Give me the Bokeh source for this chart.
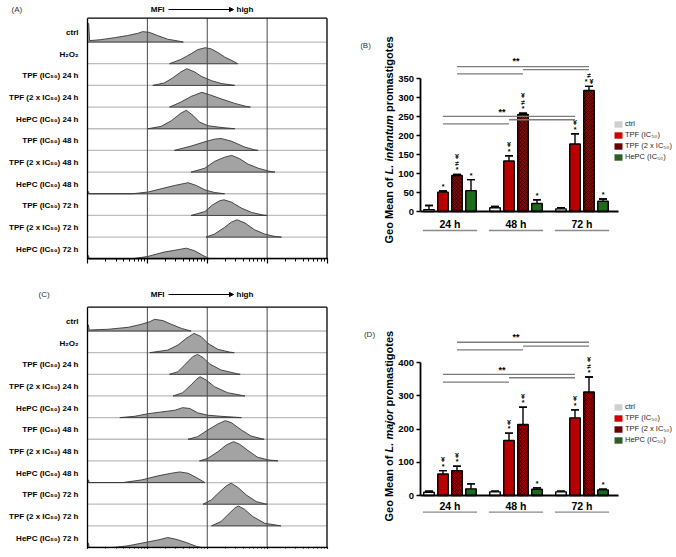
import math
import numpy as np
from bokeh.plotting import figure
from bokeh.layouts import row, column
from bokeh.models import (ColumnDataSource, Range1d, FixedTicker, LogTicker, Arrow,
                          NormalHead, Whisker, TeeHead, Legend, LegendItem, CustomJSTickFormatter)
from bokeh.core.properties import value
from bokeh.embed import file_html
from bokeh.resources import INLINE

FONT = "Liberation Sans"

# ---------------- data ----------------
row_labels = ["ctrl", "H₂O₂", "TPF (IC₅₀) 24 h", "TPF (2 x IC₅₀) 24 h", "HePC (IC₅₀) 24 h",
              "TPF (IC₅₀) 48 h", "TPF (2 x IC₅₀) 48 h", "HePC (IC₅₀) 48 h",
              "TPF (IC₅₀) 72 h", "TPF (2 x IC₅₀) 72 h", "HePC (IC₅₀) 72 h"]

# histogram outlines: log10(MFI) positions and heights (fraction of a row)
A_hist_exp = [
    [0, 0.02, 0.035, 0.06, 0.22, 0.45, 0.67, 0.84, 0.92, 1.03, 1.17, 1.34, 1.51, 1.6],
    [1.37, 1.56, 1.73, 1.84, 1.97, 2.07, 2.18, 2.29, 2.43, 2.51],
    [1.09, 1.28, 1.42, 1.56, 1.66, 1.79, 1.9, 2.07, 2.23, 2.46],
    [1.37, 1.56, 1.73, 1.91, 2.04, 2.23, 2.46, 2.65, 2.72],
    [1.01, 1.23, 1.40, 1.56, 1.65, 1.76, 1.87, 2.01, 2.23, 2.46],
    [1.45, 1.73, 1.96, 2.12, 2.23, 2.40, 2.63, 2.79, 2.85],
    [1.73, 1.96, 2.12, 2.29, 2.41, 2.54, 2.68, 2.85, 3.02, 3.13],
    [0, 0.015, 0.03, 0.75, 1.01, 1.23, 1.45, 1.68, 1.82, 1.96, 2.12, 2.29],
    [1.73, 1.96, 2.09, 2.21, 2.28, 2.40, 2.57, 2.74, 2.93, 3.0],
    [1.98, 2.12, 2.29, 2.40, 2.50, 2.63, 2.79, 2.96, 3.13, 3.24],
    [0, 0.015, 0.03, 0.75, 1.01, 1.28, 1.51, 1.65, 1.79, 1.93, 2.04],
]
A_hist_h = [
    [0.85, 0.85, 0.07, 0.07, 0.11, 0.2, 0.3, 0.4, 0.48, 0.45, 0.3, 0.13, 0.05, 0],
    [0, 0.2, 0.46, 0.65, 0.74, 0.68, 0.51, 0.31, 0.12, 0],
    [0, 0.11, 0.34, 0.62, 0.77, 0.62, 0.42, 0.22, 0.09, 0],
    [0, 0.23, 0.49, 0.68, 0.57, 0.38, 0.17, 0.03, 0],
    [0, 0.11, 0.37, 0.72, 0.85, 0.62, 0.31, 0.14, 0.06, 0],
    [0, 0.2, 0.4, 0.52, 0.55, 0.43, 0.15, 0.03, 0],
    [0, 0.18, 0.49, 0.69, 0.77, 0.62, 0.37, 0.18, 0.05, 0],
    [0.1, 0.1, 0, 0, 0.08, 0.23, 0.38, 0.51, 0.38, 0.18, 0.06, 0],
    [0, 0.18, 0.49, 0.68, 0.72, 0.62, 0.34, 0.14, 0.02, 0],
    [0, 0.14, 0.45, 0.69, 0.8, 0.65, 0.34, 0.14, 0.03, 0],
    [0.15, 0.15, 0, 0, 0.11, 0.31, 0.42, 0.49, 0.37, 0.15, 0],
]
C_hist_exp = [
    [0, 0.015, 0.03, 0.05, 0.34, 0.68, 0.9, 1.04, 1.12, 1.26, 1.4, 1.57, 1.73],
    [1.04, 1.34, 1.51, 1.65, 1.78, 1.9, 2.01, 2.18, 2.37, 2.45],
    [1.37, 1.51, 1.65, 1.76, 1.84, 1.93, 2.04, 2.23, 2.51, 2.55],
    [1.43, 1.59, 1.73, 1.82, 1.88, 1.98, 2.12, 2.34, 2.59, 2.63],
    [0.54, 0.79, 1.01, 1.23, 1.46, 1.59, 1.71, 1.84, 2.01, 2.23, 2.57],
    [1.68, 1.84, 2.01, 2.18, 2.3, 2.4, 2.57, 2.73, 2.9, 2.95],
    [1.87, 2.01, 2.18, 2.32, 2.44, 2.54, 2.68, 2.84, 3.01, 3.18],
    [0, 0.015, 0.03, 0.59, 0.9, 1.18, 1.4, 1.54, 1.68, 1.82, 1.96],
    [1.93, 2.07, 2.21, 2.32, 2.4, 2.51, 2.65, 2.82, 2.96, 3.0],
    [2.07, 2.23, 2.37, 2.46, 2.52, 2.62, 2.76, 2.96, 3.23],
    [0, 0.015, 0.03, 0.43, 0.68, 0.96, 1.18, 1.34, 1.48, 1.65, 1.82, 1.9],
]
C_hist_h = [
    [0.28, 0.28, 0.05, 0.05, 0.08, 0.17, 0.31, 0.43, 0.54, 0.48, 0.31, 0.12, 0],
    [0, 0.12, 0.35, 0.66, 0.89, 0.74, 0.43, 0.15, 0.03, 0],
    [0, 0.12, 0.51, 0.82, 0.92, 0.77, 0.48, 0.2, 0.02, 0],
    [0, 0.15, 0.51, 0.77, 0.89, 0.74, 0.43, 0.15, 0.02, 0],
    [0, 0.06, 0.18, 0.26, 0.34, 0.46, 0.42, 0.22, 0.11, 0.06, 0],
    [0, 0.12, 0.43, 0.71, 0.86, 0.77, 0.43, 0.15, 0.03, 0],
    [0, 0.12, 0.43, 0.74, 0.89, 0.77, 0.48, 0.17, 0.05, 0],
    [0.12, 0.12, 0, 0, 0.12, 0.31, 0.43, 0.49, 0.43, 0.23, 0],
    [0, 0.2, 0.58, 0.85, 0.97, 0.78, 0.43, 0.12, 0.02, 0],
    [0, 0.2, 0.58, 0.82, 0.92, 0.77, 0.43, 0.12, 0],
    [0.2, 0.2, 0, 0, 0.08, 0.23, 0.35, 0.46, 0.38, 0.23, 0.05, 0],
]

groups = ["24 h", "48 h", "72 h"]
series = ["ctrl", "TPF (IC₅₀)", "TPF (2 x IC₅₀)", "HePC (IC₅₀)"]

# (B) L. infantum
B_ctrl = [5, 10, 7]
B_ctrl_err = [11, 3, 3]
B_tpf = [51, 133, 178]
B_tpf_err = [3, 14, 27]
B_tpf2 = [95, 256, 319]
B_tpf2_err = [3, 3, 11]
B_hepc = [55, 21, 27]
B_hepc_err = [29, 10, 6]
B_yticks = [0, 50, 100, 150, 200, 250, 300, 350]
B_marks_ctrl = [[], [], []]
B_marks_tpf = [["*"], ["*", "¥"], ["*", "¥"]]
B_marks_tpf2 = [["*", "≠", "¥"], ["*", "≠", "¥"], ["* ¥", "≠"]]
B_marks_hepc = [["*"], ["*"], ["*"]]
B_brk_tpf_y = [251, 242, 231]
B_brk_tpf_star = 262
B_brk_tpf2_y = [382, 374, 363]
B_brk_tpf2_star = 396

# (D) L. major
D_ctrl = [10, 11, 11]
D_ctrl_err = [3, 2, 2]
D_tpf = [65, 166, 234]
D_tpf_err = [10, 22, 24]
D_tpf2 = [75, 214, 312]
D_tpf2_err = [13, 52, 45]
D_hepc = [20, 19, 17]
D_hepc_err = [15, 4, 2]
D_yticks = [0, 100, 200, 300, 400]
D_marks_ctrl = [[], [], []]
D_marks_tpf = [["*", "¥"], ["*", "¥"], ["*", "¥"]]
D_marks_tpf2 = [["*", "¥"], ["*", "¥"], ["*", "≠", "¥"]]
D_marks_hepc = [[], ["*"], ["*"]]
D_brk_tpf_y = [365, 355, 342]
D_brk_tpf_star = 379
D_brk_tpf2_y = [462, 450, 439]
D_brk_tpf2_star = 479

bracket_pairs = [(0, 2), (1, 2), (0, 1)]

# ---------------- styling / layout ----------------
bar_fill = ["#f6f6f6", "#b80000", "#8c0000", "#1e6b1e"]
bar_hatch = [None, None, "x", None]
legend_fill = ["#d0d0d0", "#d40000", "#6a0000", "#2f5e24"]

LEFT_W, RIGHT_W = 330, 345
TOP_H, BOT_H = 283, 273
MB = 8          # common bottom border (frames aligned in rows)
ML_RIGHT = 30   # left border of right column


def txt(p, x, y, t, size, style="bold", align="center", color="black", angle=0.0):
    p.text(x=x, y=y, text=t, angle=angle, text_font=value(FONT), text_font_size=size,
           text_font_style=style, text_align=align, text_baseline="middle", text_color=color)


def hide_labels(ax):
    ax.formatter = CustomJSTickFormatter(code="return ''")
    ax.major_label_text_font_size = "1px"
    ax.major_label_standoff = 0


def hist_panel(exps, hs, letter, letter_px, fig_top, fig_h, box_top, box_bottom, title_py):
    BL, BR = 87.0, 326.5
    dec = (BR - BL) / 4.0
    n = len(row_labels)
    ymax = n + 0.1
    ppu = (box_bottom - box_top) / ymax

    def px2x(px):
        return 10 ** ((px - BL) / dec)

    def py2y(py):
        return (box_bottom - py) / ppu

    frame_bottom = fig_top + fig_h - MB
    p = figure(width=LEFT_W, height=fig_h, x_axis_type="log", y_axis_location=None,
               x_range=Range1d(px2x(0), px2x(LEFT_W)),
               y_range=Range1d(py2y(frame_bottom), py2y(fig_top)),
               output_backend="svg", toolbar_location=None,
               min_border_left=0, min_border_right=0, min_border_top=0, min_border_bottom=MB)
    p.outline_line_color = None
    p.grid.visible = False
    p.background_fill_color = "white"

    x_lo, x_hi = 1.0, 1e4
    decades = [10.0 ** k for k in range(5)]
    baselines = [n - 1 - i for i in range(n)]

    xs, ys = [], []
    for b, e, h in zip(baselines, exps, hs):
        xs.append([10 ** v for v in [e[0]] + e + [e[-1]]])
        ys.append([b + v for v in [0] + h + [0]])
    p.segment(x0=[x_lo] * n, y0=baselines, x1=[x_hi] * n, y1=baselines,
              line_color="#bdbdbd", line_width=1.3)
    p.patches(xs, ys, fill_color="#a3a3a3", line_color="#383838", line_width=0.9)
    p.segment(x0=decades[1:-1], y0=[0] * 3, x1=decades[1:-1], y1=[ymax] * 3,
              line_color="#4a4a4a", line_width=1)
    p.segment(x0=[x_lo, x_hi, x_lo], y0=[0, 0, ymax], x1=[x_lo, x_hi, x_hi], y1=[ymax, ymax, ymax],
              line_color="black", line_width=1.3)

    txt(p, [px2x(78)] * n, [b + 0.4375 for b in baselines], row_labels, "8px", align="right")

    ty = py2y(title_py)
    txt(p, [px2x(letter_px)], [ty], [letter], "8px", style="normal", align="left", color="#333333")
    txt(p, [px2x(164)], [ty], ["MFI"], "8px", align="right")
    txt(p, [px2x(236)], [ty], ["high"], "8px", align="left")
    p.add_layout(Arrow(x_start=px2x(168), y_start=ty, x_end=px2x(233), y_end=ty,
                       line_color="black", line_width=1.2,
                       end=NormalHead(size=4, fill_color="black", line_color="black")))

    p.xaxis.fixed_location = 0
    p.xaxis.bounds = (x_lo, x_hi)
    p.xaxis.ticker = LogTicker(mantissas=[1], num_minor_ticks=10)
    hide_labels(p.xaxis[0])
    p.xaxis.major_tick_out = 5
    p.xaxis.major_tick_in = 0
    p.xaxis.minor_tick_out = 3
    p.xaxis.minor_tick_in = 0
    p.xaxis.axis_line_width = 1.5
    p.xaxis.major_tick_line_width = 1.2
    p.xaxis.axis_line_color = "black"
    p.xaxis.major_tick_line_color = "black"
    p.xaxis.minor_tick_line_color = "black"
    return p


def bar_panel(fig_top, fig_h, y0_px, ppu, vals, errs, marks, brk, yticks,
              group_py, under_py, species, ylab_start_px, letter, letter_pos, legend_bottom_px):
    fig_left = LEFT_W
    frame_left = fig_left + ML_RIGHT
    frame_bottom = fig_top + fig_h - MB
    axis_px, axis_end_px, gc0, pitch = 419.5, 617.5, 449.5, 66.0

    def px2x(px):
        return (px - gc0) / pitch

    def py2y(py):
        return (y0_px - py) / ppu

    p = figure(width=RIGHT_W, height=fig_h,
               x_range=Range1d(px2x(frame_left), px2x(fig_left + RIGHT_W)),
               y_range=Range1d(py2y(frame_bottom), py2y(fig_top)),
               output_backend="svg", toolbar_location=None,
               min_border_left=ML_RIGHT, min_border_right=0, min_border_top=0, min_border_bottom=MB)
    p.outline_line_color = None
    p.grid.visible = False

    bar_w = 10.5 / pitch
    step = 14.0 / pitch
    ng = len(groups)

    def gx(si, g):
        return g + (si - 1.5) * step

    mx, my, mt_, mo = [], [], [], []
    for si, name in enumerate(series):
        xs = [gx(si, g) for g in range(ng)]
        ups = [v + e for v, e in zip(vals[si], errs[si])]
        src = ColumnDataSource(dict(x=xs, top=vals[si], up=ups))
        kw = dict(fill_color=bar_fill[si], line_color="black", line_width=1.4)
        if bar_hatch[si]:
            kw.update(hatch_pattern=bar_hatch[si], hatch_color="#220000", hatch_scale=4,
                      hatch_weight=0.8)
        p.vbar(x="x", top="top", bottom=0, width=bar_w, source=src, **kw)
        p.segment(x0="x", y0="top", x1="x", y1="up", source=src,
                  line_color="black", line_width=1.4)
        p.add_layout(Whisker(source=src, base="x", upper="up", lower="up",
                             line_color="black", line_width=1.4,
                             upper_head=TeeHead(size=8, line_color="black", line_width=1.4),
                             lower_head=TeeHead(size=8, line_color="black", line_width=1.4)))
        for g in range(ng):
            for k, t in enumerate(marks[si][g]):
                mx.append(xs[g])
                my.append(ups[g])
                mt_.append(t)
                mo.append(-(4.5 + 6.5 * k))
    msrc = ColumnDataSource(dict(x=mx, y=my, t=mt_, o=mo))
    p.text(x="x", y="y", text="t", y_offset="o", source=msrc, text_font=value(FONT),
           text_font_size="7px", text_font_style="bold", text_align="center",
           text_baseline="middle", text_color="black")

    # significance brackets
    sx0, sy0, sx1, sts, stx, sty = [], [], [], [], [], []
    for si, ylist, ystar in brk:
        for (a, b), yy in zip(bracket_pairs, ylist):
            sx0.append(gx(si, a))
            sx1.append(gx(si, b))
            sy0.append(yy)
        stx.append((gx(si, 0) + gx(si, 2)) / 2 - 7.0 / pitch)
        sty.append(ystar)
        sts.append("**")
    p.segment(x0=sx0, y0=sy0, x1=sx1, y1=sy0, line_color="#7c7c7c", line_width=1.3)
    txt(p, stx, sty, sts, "9px")

    # group labels and underlines
    txt(p, list(range(ng)), [py2y(group_py)] * ng, groups, "10.5px")
    uy = py2y(under_py)
    p.segment(x0=[g - 0.41 for g in range(ng)], y0=[uy] * ng,
              x1=[g + 0.41 for g in range(ng)], y1=[uy] * ng,
              line_color="#8a8a8a", line_width=1.3)

    # axes
    p.xaxis.fixed_location = 0
    p.xaxis.bounds = (px2x(axis_px), px2x(axis_end_px))
    p.xaxis.ticker = FixedTicker(ticks=list(range(ng)))
    hide_labels(p.xaxis[0])
    p.xaxis.major_tick_out = 0
    p.xaxis.major_tick_in = 0
    p.xaxis.minor_tick_line_color = None
    p.xaxis.axis_line_width = 1.8
    p.xaxis.axis_line_color = "black"

    p.yaxis.fixed_location = px2x(axis_px)
    p.yaxis.bounds = (0, yticks[-1])
    p.yaxis.ticker = FixedTicker(ticks=yticks)
    p.yaxis.axis_line_width = 1.8
    p.yaxis.axis_line_color = "black"
    p.yaxis.major_tick_out = 4
    p.yaxis.major_tick_in = 0
    p.yaxis.major_tick_line_width = 1.5
    p.yaxis.minor_tick_line_color = None
    p.yaxis.major_label_text_font = FONT
    p.yaxis.major_label_text_font_style = "bold"
    p.yaxis.major_label_text_font_size = "9.5px"
    p.yaxis.major_label_text_color = "black"
    p.yaxis.major_label_standoff = 2

    # y-axis title in three pieces (italic species name)
    fs = 11.0
    w1 = 6.279 * fs
    w2 = {"L. infantum": 5.389, "L. major": 3.890}[species] * fs
    wsp = 0.278 * fs
    starts = [ylab_start_px, ylab_start_px - w1, ylab_start_px - w1 - w2 - wsp]
    texts = ["Geo Mean of", species, "promastigotes"]
    styles = ["bold", "bold italic", "bold"]
    for s, t, st in zip(starts, texts, styles):
        txt(p, [px2x(388)], [py2y(s)], [t], "11px", style=st, align="left", angle=math.pi / 2)
    txt(p, [px2x(letter_pos[0])], [py2y(letter_pos[1])], [letter], "8px", style="normal",
        color="#333333")

    # legend: swatch-only renderers (a single NaN bar draws nothing in the plot)
    items = []
    for si, name in enumerate(series):
        lsrc = ColumnDataSource(dict(x=np.array([np.nan]), top=np.array([np.nan])))
        r = p.vbar(x="x", top="top", width=bar_w, source=lsrc,
                   fill_color=legend_fill[si], line_color=None)
        items.append(LegendItem(label=name, renderers=[r]))
    leg = Legend(items=items, location=(613 - frame_left, frame_bottom - legend_bottom_px),
                 padding=0, margin=0, spacing=2, glyph_width=10, glyph_height=8,
                 label_height=9, label_standoff=2, label_text_font=FONT,
                 label_text_font_size="7.5px", label_text_color="#262626",
                 border_line_color=None, background_fill_alpha=0)
    p.add_layout(leg)
    return p


pA = hist_panel(A_hist_exp, A_hist_h, "(A)", 11, 0, TOP_H, 17.7, 258.3, 9)
pC = hist_panel(C_hist_exp, C_hist_h, "(C)", 38, TOP_H, BOT_H, 306.7, 547.0, 294)

B_vals = [B_ctrl, B_tpf, B_tpf2, B_hepc]
B_errs = [B_ctrl_err, B_tpf_err, B_tpf2_err, B_hepc_err]
B_marks = [B_marks_ctrl, B_marks_tpf, B_marks_tpf2, B_marks_hepc]
D_vals = [D_ctrl, D_tpf, D_tpf2, D_hepc]
D_errs = [D_ctrl_err, D_tpf_err, D_tpf2_err, D_hepc_err]
D_marks = [D_marks_ctrl, D_marks_tpf, D_marks_tpf2, D_marks_hepc]

pB = bar_panel(0, TOP_H, 211.0, 132.7 / 350, B_vals, B_errs, B_marks,
               [(1, B_brk_tpf_y, B_brk_tpf_star), (2, B_brk_tpf2_y, B_brk_tpf2_star)],
               B_yticks, 223, 230, "L. infantum", 243, "(B)", (365, 45), 161)
pD = bar_panel(TOP_H, BOT_H, 495.0, 132.7 / 400, D_vals, D_errs, D_marks,
               [(1, D_brk_tpf_y, D_brk_tpf_star), (2, D_brk_tpf2_y, D_brk_tpf2_star)],
               D_yticks, 505, 511.7, "L. major", 521, "(D)", (369, 334), 444)

layout = column(row(pA, pB), row(pC, pD))
open("out.html", "w").write(file_html(layout, INLINE))
